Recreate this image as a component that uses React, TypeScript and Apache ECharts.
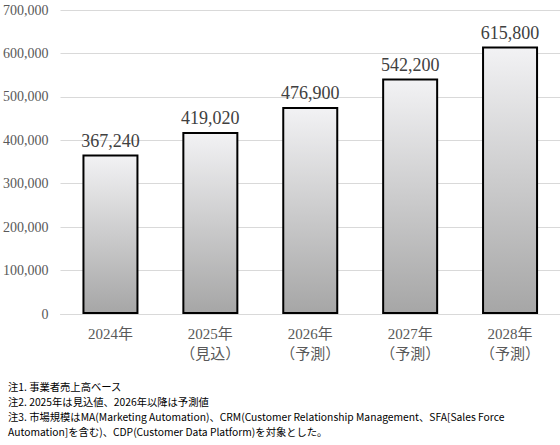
import React, { useEffect, useRef } from "react";
import * as echarts from "echarts";

const categories = ["2024年", "2025年\n（見込）", "2026年\n（予測）", "2027年\n（予測）", "2028年\n（予測）"];
const values = [367240, 419020, 476900, 542200, 615800];
const notes = [
  "注1. 事業者売上高ベース",
  "注2. 2025年は見込値、2026年以降は予測値",
  "注3. 市場規模はMA(Marketing Automation)、CRM(Customer Relationship Management、SFA[Sales Force",
  "Automation]を含む)、CDP(Customer Data Platform)を対象とした。",
];

const SERIF = "'Liberation Serif', 'Noto Sans CJK JP', serif";
const CJK = "'Noto Sans CJK JP', sans-serif";

export default function App() {
  const ref = useRef<HTMLDivElement>(null);
  useEffect(() => {
    document.body.style.margin = "0";
    if (!ref.current) return;
    const chart = echarts.init(ref.current, undefined, { renderer: "svg" });
    chart.setOption({
      animation: false,
      backgroundColor: "#ffffff",
      grid: { left: 60, right: 0, top: 10, bottom: 131 },
      xAxis: {
        type: "category",
        data: categories,
        axisLine: { show: true, lineStyle: { color: "#d9d9d9", width: 1 } },
        axisTick: { show: false },
        axisLabel: {
          color: "#595959",
          fontFamily: SERIF,
          fontSize: 15,
          lineHeight: 20,
          margin: 10,
          verticalAlign: "top",
        },
      },
      yAxis: {
        type: "value",
        min: 0,
        max: 700000,
        interval: 100000,
        axisLine: { show: false },
        axisTick: { show: false },
        splitLine: { lineStyle: { color: "#d9d9d9", width: 1 } },
        axisLabel: {
          color: "#595959",
          fontFamily: SERIF,
          fontSize: 14,
          margin: 12,
          formatter: (v: number) => v.toLocaleString("en-US"),
        },
      },
      series: [
        {
          type: "bar",
          data: values,
          barWidth: 56,
          itemStyle: {
            borderColor: "#000000",
            borderWidth: 2,
            color: new echarts.graphic.LinearGradient(0, 0, 0, 1, [
              { offset: 0, color: "#f2f2f4" },
              { offset: 1, color: "#a6a6a6" },
            ]),
          },
          label: {
            show: true,
            position: "top",
            distance: 5,
            color: "#404040",
            fontFamily: SERIF,
            fontSize: 18,
            formatter: (p: any) => Number(p.value).toLocaleString("en-US"),
          },
        },
      ],
      graphic: notes.map((t, i) => ({
        type: "text",
        left: 8,
        top: 381 + i * 15.2,
        style: {
          text: t,
          fontFamily: CJK,
          fontSize: 10.3,
          fill: "#000000",
        },
      })),
    });
    return () => chart.dispose();
  }, []);
  return <div ref={ref} style={{ width: 560, height: 445 }} />;
}
